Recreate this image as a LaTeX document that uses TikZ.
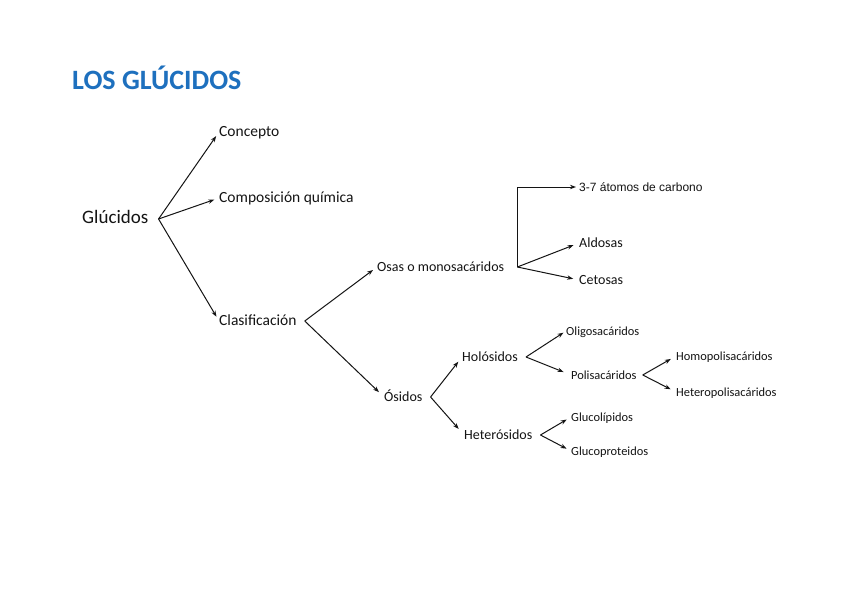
\documentclass[tikz,border=0pt]{standalone}
\usepackage{fontspec}
\setmainfont{Carlito}
\newfontfamily\arialfont{Liberation Sans}
\usetikzlibrary{arrows.meta}
\newcommand\fsz[1]{\fontsize{#1}{#1}\selectfont}
\definecolor{titleblue}{RGB}{30,112,190}
\definecolor{ink}{RGB}{20,20,20}
\tikzset{
  lbl/.style={anchor=west, inner sep=0pt, text height=0.84em, text depth=0pt, text=ink},
  l19/.style={lbl, font=\fsz{19}},
  l15/.style={lbl, font=\fsz{15.5}},
  l14/.style={lbl, font=\fsz{14}},
  l12/.style={lbl, font=\fsz{12.4}},
  a12/.style={lbl, font=\arialfont\fsz{12}},
  arr/.style={-{Stealth[length=6pt,width=4.4pt]}, line width=1pt, draw=ink, shorten >=5pt},
}
\begin{document}
\begin{tikzpicture}[x=1pt,y=-1pt]
\useasboundingbox[fill=white] (0,0) rectangle (848,599);
\node[anchor=base west, inner sep=0pt, font=\bfseries\fsz{28}, text=titleblue] (title) at (72,90) {LOS GLÚCIDOS};

\node[l19] (glu) at (82,219) {Glúcidos};
\node[l15] (con) at (219,132) {Concepto};
\node[l15] (com) at (219,198) {Composición química};
\node[l15] (cla) at (219,321) {Clasificación};
\node[l14] (osa) at (377,267) {Osas o monosacáridos};
\node[l14] (osi) at (384,397) {Ósidos};
\node[a12] (tre) at (579,187) {3-7 átomos de carbono};
\node[l14] (ald) at (579,243) {Aldosas};
\node[l14] (cet) at (579,280) {Cetosas};
\node[l14] (hol) at (462,357) {Holósidos};
\node[l14] (het) at (464,435) {Heterósidos};
\node[l12] (oli) at (566,331) {Oligosacáridos};
\node[l12] (pol) at (571,375) {Polisacáridos};
\node[l12] (hom) at (676,356) {Homopolisacáridos};
\node[l12] (htp) at (676,392) {Heteropolisacáridos};
\node[l12] (glp) at (571,417) {Glucolípidos};
\node[l12] (gpr) at (571,451) {Glucoproteidos};

\coordinate (g0) at ([xshift=10pt]glu.east);
\coordinate (c0) at ([xshift=8pt]cla.east);
\coordinate (o0) at ([xshift=13pt]osa.east);
\coordinate (s0) at ([xshift=8pt]osi.east);
\coordinate (h0) at ([xshift=8pt]hol.east);
\coordinate (e0) at ([xshift=8pt]het.east);
\coordinate (p0) at ([xshift=6pt]pol.east);

\draw[arr] (g0) -- (con.west);
\draw[arr] (g0) -- (com.west);
\draw[arr] (g0) -- (cla.west);
\draw[arr] (c0) -- (osa.west);
\draw[arr, shorten >=7pt] (c0) -- (osi.west);
\draw[arr, shorten >=3pt] (o0) |- (tre.west);
\draw[arr, shorten >=6pt] (o0) -- (ald.west);
\draw[arr, shorten >=6pt] (o0) -- (cet.west);
\draw[arr, shorten >=6pt] (s0) -- (hol.west);
\draw[arr, shorten >=8pt] (s0) -- (het.west);
\draw[arr, shorten >=3pt] (h0) -- (oli.west);
\draw[arr, shorten >=8pt] (h0) -- (pol.west);
\draw[arr, shorten >=6pt] (p0) -- (hom.west);
\draw[arr, shorten >=6pt] (p0) -- (htp.west);
\draw[arr] (e0) -- (glp.west);
\draw[arr] (e0) -- (gpr.west);
\end{tikzpicture}
\end{document}
